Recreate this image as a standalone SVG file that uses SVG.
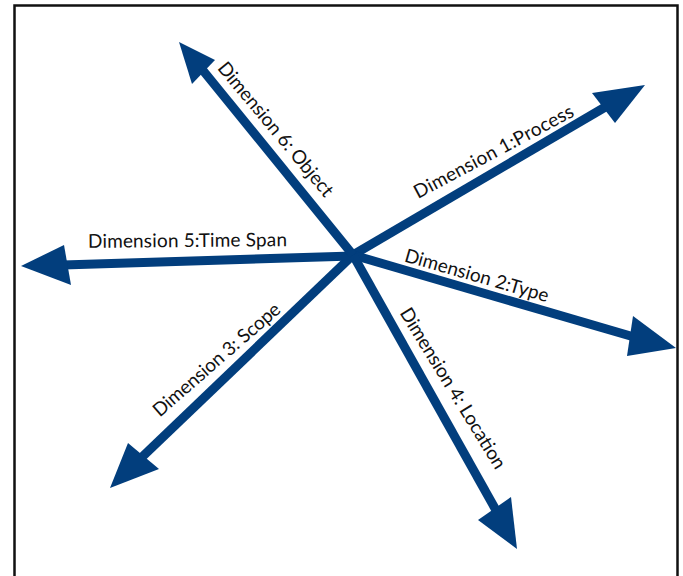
<svg xmlns="http://www.w3.org/2000/svg" width="683" height="576" viewBox="0 0 683 576">
<style>
.frame{fill:#ffffff;stroke:#111111;stroke-width:2.5}
.shaft{stroke:#023e7d;stroke-width:9;fill:none;stroke-linecap:butt}
.head{fill:#023e7d;stroke:none}
.lbl{font-family:Lato,"Open Sans","Liberation Sans",sans-serif;font-size:19px;fill:#111111;text-anchor:middle}
</style>
<rect x="0" y="0" width="683" height="576" fill="#ffffff"/>
<rect class="frame" x="14.5" y="5.5" width="663" height="600"/>
<g id="connectors">
<line class="shaft" x1="353" y1="255" x2="607" y2="106"/>
<line class="shaft" x1="353" y1="255" x2="634" y2="337"/>
<line class="shaft" x1="353" y1="255" x2="140" y2="459"/>
<line class="shaft" x1="353" y1="255" x2="497" y2="512"/>
<line class="shaft" x1="353" y1="256" x2="63" y2="265"/>
<line class="shaft" x1="353" y1="255" x2="201" y2="68"/>
</g>
<g id="dim1">
<polygon class="head" points="645,85 592,93 615,123"/>
<text class="lbl" transform="translate(496.7,157.3) rotate(-28)" textLength="178" lengthAdjust="spacing">Dimension 1:Process</text>
</g>
<g id="dim2">
<polygon class="head" points="676,348 633,316 627,356"/>
<text class="lbl" transform="translate(475,281.7) rotate(16)" textLength="149" lengthAdjust="spacing">Dimension 2:Type</text>
</g>
<g id="dim3">
<polygon class="head" points="110,488 128,443 159,469"/>
<text class="lbl" transform="translate(220.8,364.5) rotate(-41)" textLength="162" lengthAdjust="spacing">Dimension 3: Scope</text>
</g>
<g id="dim4">
<polygon class="head" points="517,549 478,520 511,497"/>
<text class="lbl" transform="translate(447.5,391.7) rotate(58.5)" textLength="185" lengthAdjust="spacing">Dimension 4: Location</text>
</g>
<g id="dim5">
<polygon class="head" points="21,266 64,245 71,285"/>
<text class="lbl" transform="translate(187.5,247) rotate(-0.5)" textLength="199" lengthAdjust="spacing">Dimension 5:Time Span</text>
</g>
<g id="dim6">
<polygon class="head" points="179,42 215,60 192,84"/>
<text class="lbl" transform="translate(270.8,133.3) rotate(50.2)" textLength="169" lengthAdjust="spacing">Dimension 6: Object</text>
</g>
</svg>
